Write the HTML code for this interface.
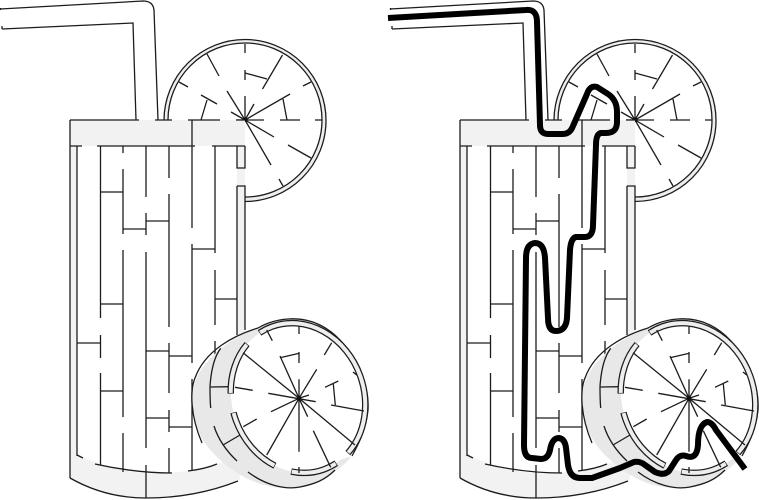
<!DOCTYPE html>
<html><head><meta charset="utf-8"><style>html,body{margin:0;padding:0;background:#fff}svg{display:block}</style></head><body>
<svg width="759" height="500" viewBox="0 0 759 500" xmlns="http://www.w3.org/2000/svg">
<defs>
<g id="m" fill="none" stroke="#1c1c1c" stroke-width="1.300">
<!-- back lemon -->
<path d="M164,120A81,81 0 1 1 245,201.500L245,197A77,77 0 1 0 168,120Z" fill="#eee" stroke="none"/>
<path d="M164,120A81,81 0 1 1 245,201.500M245,197A77,77 0 1 0 168,120"/>
<path d="M245,44V53M207,54L219,76M282.500,55L262.500,89M245,70V80M245,73L267,79M179,82L188,87M201,95L217,104M207,100L201,120M227,91L245,120M245,96V120M254,104L245,120M231,112L245,120M290,94L245,120M283,99L287,120M303,86L311,82M236,120H264M280,120H300M315,120H322M245,120L274,137M245,120L271,165M288,145L311,158M279,179L283,186"/>
<circle cx="245" cy="120" r="2" fill="#111" stroke="none"/>
<!-- straw -->
<path d="M0.500,8V10M0,9L143,1Q153,1 154,10L158,120M2,26V29M2,29L133,23L136,120"/>
<!-- glass fills -->
<rect x="70" y="120" width="175" height="26" fill="#f2f2f2" stroke="none"/>
<rect x="70" y="146" width="7" height="320" fill="#f2f2f2" stroke="none"/>
<rect x="237" y="146" width="8" height="190" fill="#f2f2f2" stroke="none"/>
<path d="M70,455L77,455Q120,473 146,473Q200,475 238,455L240,480Q190,498 146,498Q105,498 70,478Z" fill="#f2f2f2" stroke="none"/>
<!-- rim -->
<path d="M70,120H139M155,120H172M188,120H220M236,120H245M70,146H82M97,146H195M212,146H245"/>
<!-- walls -->
<path d="M70,120V478M77,146V456
M100.500,146V318M100.500,335V358M100.500,373V465
M123,146V153M123,169V234M123,250V417M123,433V472
M146,146V197M146,213V235M146,252V448M146,465V498
M169,146V178M169,194V327M169,343V393M169,410V432M169,448V473
M192,120V228M192,244V363M192,379V470
M215,146V253M215,270V325M215,341V370
M237,146V168H245V146M237,186H245V330M237,186V335"/>
<path d="M100,192H123M123,229H146M146,221H169M192,249H215M215,299H237M100,304H123M77,343H100M100,391H123M146,351H169M169,356H192M146,418H169M169,427H192"/>
<path d="M77,455L83,458M95,464Q135,473 172,473M188,471Q205,469 217,464M70,478Q105,498 146,498Q195,498 238,481"/>
<!-- front lemon -->
<path d="M258,328C275,318 300,315 320,325C350,340 370,380 368,410C366,430 358,445 350,458C340,470 325,480 300,487C270,492 240,480 215,455C195,435 190,410 193,390C197,365 225,340 258,328Z" fill="#e8e8e8" stroke="none"/>
<ellipse cx="298" cy="398" rx="66" ry="76" transform="rotate(-20 298 398)" fill="#fff" stroke="none"/>
<path d="M340,330C358,345 370,380 368,410C366,430 358,445 352,456L340,460L345,335Z" fill="#fff" stroke="none"/>
<path d="M202,443C190,415 190,390 195,378C205,350 235,335 258,328C275,318 300,315 320,325C350,340 370,380 368,410C366,430 358,445 352,456M248,472C265,485 285,490 300,487C315,484 325,480 335,470"/>
<path d="M220.700,348.300Q211.700,360 210,386.700Q210,400 210.700,408M214,426Q220,445 237,461M223,445L241.700,434M210.700,387L230,386.700"/>
<g>
<ellipse cx="298" cy="398" rx="66" ry="76" transform="rotate(-20 298 398)" stroke="#1c1c1c" stroke-width="6.500" pathLength="360" stroke-dasharray="167.500 192.500" stroke-dashoffset="-259"/>
<ellipse cx="298" cy="398" rx="66" ry="76" transform="rotate(-20 298 398)" stroke="#eee" stroke-width="4" pathLength="360" stroke-dasharray="166.500 193.500" stroke-dashoffset="-259.500"/>
<ellipse cx="298" cy="398" rx="66" ry="76" transform="rotate(-20 298 398)" stroke="#1c1c1c" stroke-width="6.500" pathLength="360" stroke-dasharray="43 317" stroke-dashoffset="-202.500"/>
<ellipse cx="298" cy="398" rx="66" ry="76" transform="rotate(-20 298 398)" stroke="#eee" stroke-width="4" pathLength="360" stroke-dasharray="42 318" stroke-dashoffset="-203"/>
<ellipse cx="298" cy="398" rx="66" ry="76" transform="rotate(-20 298 398)" stroke="#1c1c1c" stroke-width="6.500" pathLength="360" stroke-dasharray="56 304" stroke-dashoffset="-131"/>
<ellipse cx="298" cy="398" rx="66" ry="76" transform="rotate(-20 298 398)" stroke="#eee" stroke-width="4" pathLength="360" stroke-dasharray="55 305" stroke-dashoffset="-131.500"/>
<ellipse cx="298" cy="398" rx="66" ry="76" transform="rotate(-20 298 398)" stroke="#1c1c1c" stroke-width="6.500" pathLength="360" stroke-dasharray="38 322" stroke-dashoffset="-79"/>
<ellipse cx="298" cy="398" rx="66" ry="76" transform="rotate(-20 298 398)" stroke="#eee" stroke-width="4" pathLength="360" stroke-dasharray="37 323" stroke-dashoffset="-79.500"/>
</g>
<path d="M243,352.700L299,398.300M280,356L299,398.300M280,357.700L299.300,353.300M299,352V363M299,326V334M266.700,330L272.300,340.700M331.700,342.700L324.300,355M316.700,369.300L299,398.300M299,379.300V398.300M353,372L356.700,375M325,387.300L338.300,381M333.300,384L335.300,405M331,405L364,411M235,387.300L252.700,390.300M268.300,393.300L315.700,401.700M309,395L299,398.300M271,411.700L299,398.300M243.300,426.700L256.700,419M266.700,455L299,398.300M299,451.700V398.300M299,467V473M307.700,416.700L299,398.300M355,445L299,398.300M313.300,430.700L330.700,467.300"/>
<circle cx="299" cy="398.300" r="2.200" fill="#111" stroke="none"/>
</g>
</defs>
<use href="#m"/>
<use href="#m" x="390"/>
<path d="M388,18L526,10Q537,9 537,22L540,125Q540,134 548,134L563,134Q570,134 573,126L587,94Q590,85 597,87L608,94Q617,100 617,112V122Q617,133 606,133H601Q596,134 596,145L593,225Q593,237 585,237H576Q571,238 570,250L567,318Q566,331 556,331Q548,331 548,318L545,258Q544,243 535,243Q526,244 526,258L524,445Q524,458 532,458L541,459Q548,459 550,450Q552,438 559,438Q565,439 566,448L568,465Q570,478 580,478H592L620,468L634,462Q640,461 645,465L655,472Q664,476 669,471L676,460Q680,454 686,456Q697,460 698,445Q698,425 707,422Q712,422 716,430L745,469" fill="none" stroke="#000" stroke-width="6" stroke-linejoin="round"/>
</svg>
</body></html>
